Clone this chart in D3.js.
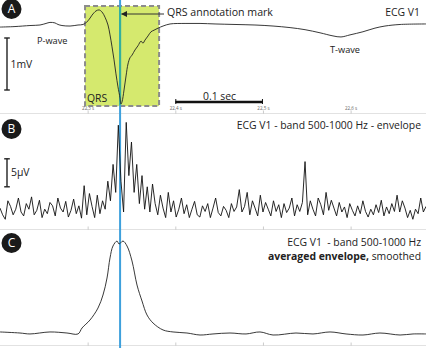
<!DOCTYPE html>
<html><head><meta charset="utf-8">
<script src="https://cdn.jsdelivr.net/npm/d3@7"></script>
<style>
html,body{margin:0;padding:0;background:#fff;}
svg{display:block;font-family:"Open Sans",sans-serif;}
</style></head>
<body>
<svg id="c" width="426" height="348"></svg>
<script>
// ---- data ----
const timeDomain = [22.2, 22.686];
const tickTimes = [22.3, 22.4, 22.5, 22.6];
const tickLabels = ["22,3 s", "22,4 s", "22,5 s", "22,6 s"];
const qrsMark = 22.337;
const qrsBox = [22.297, 22.3815];
const qrsBoxMV = [0.365, -1.56];

// Panel A: ECG V1 (time s, mV)
const ecgT = [22.2000,22.2171,22.2342,22.2456,22.2525,22.2570,22.2627,22.2662,22.2707,22.2799,22.2890,22.2947,22.3004,22.3050,22.3095,22.3130,22.3164,22.3198,22.3232,22.3255,22.3278,22.3301,22.3323,22.3346,22.3369,22.3380,22.3392,22.3415,22.3438,22.3460,22.3483,22.3506,22.3540,22.3574,22.3609,22.3631,22.3654,22.3689,22.3723,22.3757,22.3803,22.3860,22.3940,22.4111,22.4282,22.4453,22.4681,22.4909,22.5115,22.5309,22.5480,22.5651,22.5799,22.5890,22.5993,22.6141,22.6278,22.6392,22.6564,22.6860];
const ecgMV = [-0.04,-0.03,-0.01,0,0.03,0.05,0.04,0.01,-0.01,-0.02,0,0.01,0.08,0.19,0.27,0.29,0.25,0.15,0,-0.19,-0.42,-0.67,-0.94,-1.19,-1.40,-1.52,-1.48,-1.25,-0.98,-0.75,-0.63,-0.58,-0.48,-0.40,-0.31,-0.35,-0.29,-0.21,-0.13,-0.10,-0.06,-0.02,0.02,0.03,0.03,0.02,0.01,0,-0.02,-0.05,-0.09,-0.15,-0.21,-0.23,-0.19,-0.13,-0.06,-0.02,0.01,0.02];

// Panel B: band 500-1000 Hz envelope (µV), sampled every 3 ms from 22.200 s
const envStart = 22.2, envStep = 0.003;
const envUV = [3.2,2,1.2,4.5,3.5,2,3,5,2.5,1.8,4,3,5.2,2,2.8,4.6,1.5,3,2.2,4.2,3.6,1.8,5,3.2,2.5,4.4,1.6,2.8,4.8,2.2,3.6,1.4,
7.2,2,5.8,3.5,1.5,5.5,2.2,4.5,3,8,4.5,11,6,18,8,2.5,18.5,9,15,6,11,4,
9,3,7,2.5,7.5,4,2,5.5,3.2,1.5,
6,2.5,4.5,1.6,3,5,2.2,3.8,1.5,3,
4.4,2,1.6,3.6,2.6,4,1.5,3.2,5,2.4,
1.8,3.5,2.8,1.5,4,2.6,3.4,6.5,2.5,3.5,
6,2,4.5,3.2,1.8,5.5,2.5,4.2,3,1.8,
4.5,2.6,3.8,1.5,4,2.4,3.2,5,1.8,3.8,
2.6,4.2,
11.5,
2,4.5,3,1.8,5,3.8,2,6,2.8,4.6,
3.2,1.8,4.2,2.5,3.4,1.5,4,2.8,1.8,3.6,
2.2,4.5,2.6,1.6,3,2,3.8,2.4,4.6,1.8,
3.4,2.2,4,2.6,5.5,2.5,4.5,3.2,1.5,2.8,
1.2,3,2.2,5,2.5,3.5];

// Panel C: averaged envelope, smoothed (normalised)
const avgT = [22.2000,22.2228,22.2342,22.2570,22.2764,22.2890,22.2936,22.3027,22.3118,22.3175,22.3221,22.3255,22.3289,22.3335,22.3358,22.3403,22.3449,22.3506,22.3563,22.3620,22.3677,22.3746,22.3860,22.3974,22.4133,22.4282,22.4430,22.4624,22.4807,22.4966,22.5115,22.5377,22.5571,22.5765,22.5948,22.6141,22.6335,22.6564,22.6712,22.6860];
const avgV = [0.032,0.021,0.011,0.032,0.021,0.011,0.074,0.158,0.284,0.421,0.600,0.811,0.937,0.989,0.958,0.989,0.937,0.779,0.526,0.358,0.211,0.126,0.053,0.032,0.021,0,0.011,0.021,0.011,0.032,0,0.021,0.011,0.032,0.011,0,0.021,0,0.011,0.011];

// ---- drawing ----
const W = 426, H = 348;
const svg = d3.select("#c");
const x = d3.scaleLinear().domain(timeDomain).range([0, W]);
const yA = d3.scaleLinear().domain([0, -1]).range([25, 77]);
const yB = d3.scaleLinear().domain([0, 10]).range([226, 170]);
const yC = d3.scaleLinear().domain([0, 1]).range([335, 240]);

function sepAxis(yPos, labels) {
  const ax = d3.axisTop(x).tickValues(tickTimes).tickSize(3).tickPadding(1)
    .tickFormat((d, i) => labels ? tickLabels[i] : "");
  const g = svg.append("g").attr("transform", `translate(0,${yPos})`).call(ax);
  g.select(".domain").attr("stroke", "#e2e2e2").attr("d", `M0,0H${W}`);
  g.selectAll(".tick line").attr("stroke", "#aaa").attr("stroke-width", 0.6);
  g.selectAll(".tick text").attr("font-size", 4.5).attr("fill", "#666")
    .attr("font-family", "Open Sans, sans-serif");
}
sepAxis(113.5, true);
sepAxis(229.5, false);
sepAxis(345.5, false);

// QRS box
const bx0 = x(qrsBox[0]), bx1 = x(qrsBox[1]);
const by0 = yA(qrsBoxMV[0]), by1 = yA(qrsBoxMV[1]);
svg.append("rect").attr("x", bx0).attr("y", by0).attr("width", bx1 - bx0).attr("height", by1 - by0)
  .attr("fill", "#d5e96e").attr("stroke", "#8c8c8c").attr("stroke-width", 2)
  .attr("stroke-dasharray", "5,3");

// annotation line
const mx = x(qrsMark);
svg.append("line").attr("x1", mx).attr("x2", mx).attr("y1", 0).attr("y2", H)
  .attr("stroke", "#3ea0dc").attr("stroke-width", 2);
svg.append("line").attr("x1", mx).attr("x2", mx).attr("y1", by0 + 1).attr("y2", by1 - 1)
  .attr("stroke", "#33b09c").attr("stroke-width", 2);

// traces
const lineA = d3.line().x((d, i) => x(ecgT[i])).y(d => yA(d)).curve(d3.curveCatmullRom);
svg.append("path").attr("d", lineA(ecgMV)).attr("fill", "none").attr("stroke", "#222").attr("stroke-width", 0.9);

const lineB = d3.line().x((d, i) => x(envStart + i * envStep)).y(d => yB(d));
svg.append("path").attr("d", lineB(envUV)).attr("fill", "none").attr("stroke", "#111").attr("stroke-width", 0.9)
  .attr("stroke-linejoin", "round");

const lineC = d3.line().x((d, i) => x(avgT[i])).y(d => yC(d)).curve(d3.curveCatmullRom);
svg.append("path").attr("d", lineC(avgV)).attr("fill", "none").attr("stroke", "#222").attr("stroke-width", 0.9);

// arrow
svg.append("defs").append("marker").attr("id", "ah").attr("viewBox", "0 0 10 10")
  .attr("refX", 9).attr("refY", 5).attr("markerWidth", 9).attr("markerHeight", 6)
  .attr("markerUnits", "userSpaceOnUse").attr("orient", "auto")
  .append("path").attr("d", "M0,0L10,5L0,10Z").attr("fill", "#222");
svg.append("line").attr("x1", 164).attr("x2", mx + 1.5).attr("y1", 14).attr("y2", 14)
  .attr("stroke", "#333").attr("stroke-width", 1).attr("marker-end", "url(#ah)");

// scale bars
function vBar(xp, y0, y1) {
  const g = svg.append("g").attr("stroke", "#222").attr("stroke-width", 1.4);
  g.append("line").attr("x1", xp).attr("x2", xp).attr("y1", y0).attr("y2", y1);
  g.append("line").attr("x1", xp - 2.8).attr("x2", xp + 2.8).attr("y1", y0).attr("y2", y0);
  g.append("line").attr("x1", xp - 2.8).attr("x2", xp + 2.8).attr("y1", y1).attr("y2", y1);
}
vBar(7, yA(-0.25), yA(-1.25));
vBar(7, yB(12), yB(7));
const sb0 = x(22.4), sb1 = x(22.5);
svg.append("line").attr("x1", sb0).attr("x2", sb1).attr("y1", 102).attr("y2", 102)
  .attr("stroke", "#111").attr("stroke-width", 2.6);
svg.append("line").attr("x1", sb0 + 0.5).attr("x2", sb0 + 0.5).attr("y1", 99).attr("y2", 104).attr("stroke", "#111");
svg.append("line").attr("x1", sb1 - 0.5).attr("x2", sb1 - 0.5).attr("y1", 99).attr("y2", 104).attr("stroke", "#111");

// texts
function txt(s, xp, yp, size, anchor, weight) {
  return svg.append("text").attr("x", xp).attr("y", yp).attr("font-size", size)
    .attr("text-anchor", anchor || "start").attr("font-weight", weight || "normal")
    .attr("fill", "#222").text(s);
}
txt("ECG V1", 420, 15.5, 10.4, "end");
txt("QRS annotation mark", 167, 15.5, 10.6);
txt("P-wave", 37, 43.5, 9.2);
txt("T-wave", 330, 52.5, 9.2);
txt("1mV", 10.5, 68, 10.4);
txt("QRS", 87, 102, 10.4);
txt("0.1 sec", 203, 99.5, 10.4);
txt("5µV", 11, 176, 10.4);
txt("ECG V1 - band 500-1000 Hz - envelope", 421, 128.5, 10.4, "end");
txt("ECG V1  - band 500-1000 Hz", 421, 246, 10.4, "end").style("white-space", "pre");
const t2 = svg.append("text").attr("x", 421).attr("y", 259.5).attr("font-size", 10.4)
  .attr("text-anchor", "end").attr("fill", "#222");
t2.append("tspan").attr("font-weight", "bold").text("averaged envelope,");
t2.append("tspan").text(" smoothed");

// panel letters
[["A", 9], ["B", 129], ["C", 243]].forEach(([l, cy]) => {
  svg.append("circle").attr("cx", 11.5).attr("cy", cy).attr("r", 10).attr("fill", "#1a1a1a");
  svg.append("text").attr("x", 11.5).attr("y", cy + 4.3).attr("font-size", 12)
    .attr("text-anchor", "middle").attr("fill", "#fff").text(l);
});
</script>
</body></html>
